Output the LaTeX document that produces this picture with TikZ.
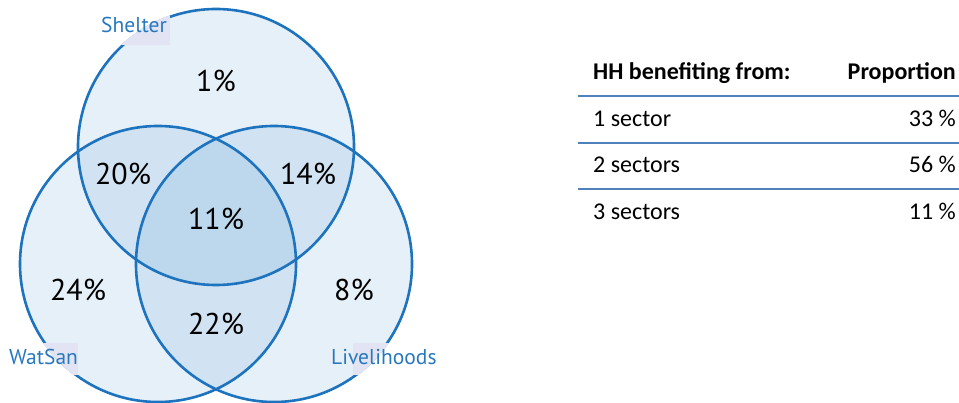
\documentclass[tikz,border=0pt]{standalone}
\usepackage{fontspec}
\setmainfont{Carlito}
\newfontfamily\vennfont{PT Sans}
\definecolor{ring}{RGB}{30,115,190}
\definecolor{labelblue}{RGB}{40,120,192}
\definecolor{one}{RGB}{230,240,248}
\definecolor{two}{RGB}{209,227,242}
\definecolor{three}{RGB}{189,216,236}
\definecolor{tag}{RGB}{226,228,244}
\definecolor{rule}{RGB}{79,129,189}
\tikzset{
  pct/.style={font=\vennfont\fontsize{30}{32}\selectfont, text=black, inner sep=0pt},
  setname/.style={font=\vennfont\fontsize{21.5}{23}\selectfont, text=labelblue, inner sep=0pt, anchor=base west},
  ringline/.style={draw=ring, line width=2.6pt},
  cell/.style={font=\fontsize{24}{26}\selectfont, inner sep=0pt},
  headcell/.style={cell, font=\bfseries\fontsize{24}{26}\selectfont},
  tabrule/.style={draw=rule, line width=2pt}
}
\begin{document}
\begin{tikzpicture}[x=1pt,y=-1pt]
\useasboundingbox (0,0) rectangle (959,403);
% circle centres
\coordinate (S) at (216,147);
\coordinate (W) at (158,264);
\coordinate (L) at (274,264);
\def\rad{138}
% single-set fills
\fill[one] (S) circle (\rad);
\fill[one] (W) circle (\rad);
\fill[one] (L) circle (\rad);
% pairwise overlaps
\begin{scope}\clip (S) circle (\rad); \fill[two] (W) circle (\rad); \fill[two] (L) circle (\rad);\end{scope}
\begin{scope}\clip (W) circle (\rad); \fill[two] (L) circle (\rad);\end{scope}
% triple overlap
\begin{scope}\clip (S) circle (\rad); \clip (W) circle (\rad); \fill[three] (L) circle (\rad);\end{scope}
% outlines
\draw[ringline] (S) circle (\rad);
\draw[ringline] (W) circle (\rad);
\draw[ringline] (L) circle (\rad);
% label plates where they lie over the circles
\begin{scope}\clip (S) circle (\rad+1.5); \fill[tag] (100,13) rectangle (170,45);\end{scope}
\begin{scope}\clip (W) circle (\rad+1.5); \fill[tag] (0,343) rectangle (78,375);\end{scope}
\begin{scope}\clip (L) circle (\rad+1.5); \fill[tag] (353,343) rectangle (445,375);\end{scope}
% set names
\node[setname] (nS) at (101,33) {Shelter};
\node[setname] (nW) at (9,365) {WatSan};
\node[setname] (nL) at (331,365) {Livelihoods};
% region values
\node[pct] (p1) at (216,81) {1\%};
\node[pct] (p20) at (123,174) {20\%};
\node[pct] (p14) at (308,174) {14\%};
\node[pct] (p11) at (216,219) {11\%};
\node[pct] (p24) at (78,290) {24\%};
\node[pct] (p8) at (354,290) {8\%};
\node[pct] (p22) at (216,324) {22\%};
% table
\node[headcell, anchor=base west] (h1) at (593,80) {HH benefiting from:};
\node[headcell, anchor=base east] (h2) at (956,80) {Proportion};
\coordinate (r1a) at (578,96);  \coordinate (r1b) at (959,96);
\coordinate (r2a) at (578,143); \coordinate (r2b) at (959,143);
\coordinate (r3a) at (578,189); \coordinate (r3b) at (959,189);
\draw[tabrule] (r1a) -- (r1b);
\draw[tabrule] (r2a) -- (r2b);
\draw[tabrule] (r3a) -- (r3b);
\node[cell, anchor=base west] (a1) at (593,127) {1 sector};
\node[cell, anchor=base east] (b1) at (956,127) {33 \%};
\node[cell, anchor=base west] (a2) at (593,173) {2 sectors};
\node[cell, anchor=base east] (b2) at (956,173) {56 \%};
\node[cell, anchor=base west] (a3) at (593,220) {3 sectors};
\node[cell, anchor=base east] (b3) at (956,220) {11 \%};
\end{tikzpicture}
\end{document}
